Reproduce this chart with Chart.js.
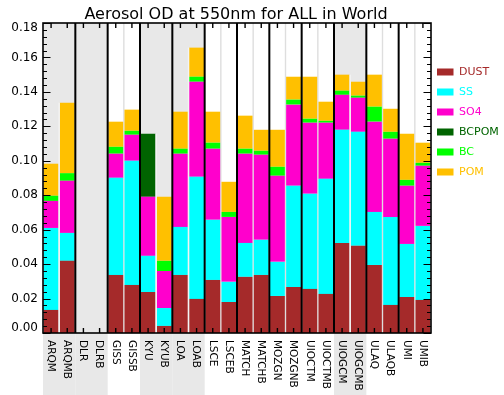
<!DOCTYPE html>
<html>
<head>
<meta charset="utf-8">
<script src="https://cdn.jsdelivr.net/npm/chart.js@4"></script>
<style>
  html, body { margin: 0; padding: 0; background: #fff; }
  #wrap { width: 504px; height: 395px; }
</style>
</head>
<body>
<div id="wrap"><canvas id="c" width="504" height="395"></canvas></div>
<script>
// Aerosol optical depth at 550 nm, global mean, split by component, per model run
const categories = ['ARQM','ARQMB','DLR','DLRB','GISS','GISSB','KYU','KYUB','LOA','LOAB','LSCE','LSCEB',
                    'MATCH','MATCHB','MOZGN','MOZGNB','UIOCTM','UIOCTMB','UIOGCM','UIOGCMB','ULAQ','ULAQB','UMI','UMIB'];
const dust  = [0.0134,0.0419,0,0,0.0337,0.0279,0.0238,0.0041,0.0337,0.0198,0.0308,0.0180,
               0.0326,0.0337,0.0215,0.0267,0.0256,0.0227,0.0523,0.0506,0.0395,0.0163,0.0209,0.0192];
const ss    = [0.0476,0.0162,0,0,0.0564,0.0721,0.0210,0.0104,0.0279,0.0709,0.0349,0.0117,
               0.0197,0.0204,0.0198,0.0588,0.0552,0.0668,0.0657,0.0662,0.0308,0.0511,0.0308,0.0430];
const so4   = [0.0157,0.0303,0,0,0.0140,0.0151,0.0343,0.0215,0.0425,0.0552,0.0413,0.0377,
               0.0518,0.0494,0.0500,0.0471,0.0413,0.0326,0.0203,0.0198,0.0524,0.0454,0.0338,0.0349];
const bcpom = [0,0,0,0,0,0,0.0366,0,0,0,0,0,
               0,0,0,0,0,0,0,0,0,0,0,0];
const bc    = [0.0030,0.0044,0,0,0.0040,0.0023,0,0.0059,0.0029,0.0029,0.0035,0.0029,
               0.0029,0.0023,0.0052,0.0029,0.0023,0.0011,0.0024,0.0012,0.0087,0.0040,0.0034,0.0017];
const pom   = [0.0186,0.0409,0,0,0.0146,0.0123,0,0.0372,0.0215,0.0169,0.0180,0.0175,
               0.0192,0.0122,0.0215,0.0133,0.0244,0.0111,0.0093,0.0081,0.0186,0.0134,0.0268,0.0117];
const yTickStep = 0.02;
const yMax = 0.18;

const FONT = '"DejaVu Sans", sans-serif';
const shadedModels = new Set(['ARQM','DLR','KYU','LOA','UIOGCM']);

const series = [
  { label: 'DUST',  data: dust,  color: '#a52a2a' },
  { label: 'SS',    data: ss,    color: '#00ffff' },
  { label: 'SO4',   data: so4,   color: '#ff00cc' },
  { label: 'BCPOM', data: bcpom, color: '#006400' },
  { label: 'BC',    data: bc,    color: '#00ff00' },
  { label: 'POM',   data: pom,   color: '#ffc000' }
];

const frame = {
  id: 'frame',
  beforeDatasetsDraw(chart) {
    const { ctx, chartArea: a, scales: { x, y } } = chart;
    const half = (x.getPixelForValue(1) - x.getPixelForValue(0)) / 2;
    ctx.save();
    for (let i = 0; i < categories.length; i += 2) {
      const l = x.getPixelForValue(i) - half;
      const r = x.getPixelForValue(i + 1) + half;
      const mid = x.getPixelForValue(i) + half;
      if (shadedModels.has(categories[i])) {
        ctx.fillStyle = '#e8e8e8';
        ctx.fillRect(l, a.top, r - l, chart.height - a.top);
      } else {
        ctx.fillStyle = '#dedede';
        ctx.fillRect(mid - 0.7, a.top, 1.4, a.bottom - a.top);
      }
    }
    ctx.restore();
  },
  afterDatasetsDraw(chart) {
    const { ctx, chartArea: a, scales: { x, y } } = chart;
    const half = (x.getPixelForValue(1) - x.getPixelForValue(0)) / 2;
    ctx.save();

    // white gap between the two runs inside shaded columns
    for (let i = 0; i < categories.length; i += 2) {
      if (!shadedModels.has(categories[i])) continue;
      let tot = 0;
      [i, i + 1].forEach(k => {
        const s = series.reduce((acc, d) => acc + d.data[k], 0);
        tot = Math.max(tot, s);
      });
      if (tot <= 0) continue;
      const mid = x.getPixelForValue(i) + half;
      const yt = y.getPixelForValue(tot);
      ctx.fillStyle = '#f4f4f4';
      ctx.fillRect(mid - 0.7, yt, 1.4, a.bottom - yt);
    }

    // black separators between models
    ctx.strokeStyle = '#000';
    ctx.lineWidth = 2;
    for (let i = 2; i < categories.length; i += 2) {
      const xx = x.getPixelForValue(i) - half;
      ctx.beginPath(); ctx.moveTo(xx, a.top); ctx.lineTo(xx, a.bottom); ctx.stroke();
    }

    // frame
    ctx.lineWidth = 1.6;
    ctx.strokeRect(a.left, a.top, a.right - a.left, a.bottom - a.top);

    // category ticks on bottom and top
    ctx.lineWidth = 1.4;
    categories.forEach((c, i) => {
      const xx = x.getPixelForValue(i);
      ctx.beginPath();
      ctx.moveTo(xx, a.bottom); ctx.lineTo(xx, a.bottom - 5);
      ctx.moveTo(xx, a.top); ctx.lineTo(xx, a.top + 5);
      ctx.stroke();
    });

    // value ticks on left and right
    ctx.lineWidth = 1.2;
    const nMinor = Math.round(yMax / (yTickStep / 5));
    for (let k = 0; k <= nMinor; k++) {
      const v = k * yTickStep / 5;
      const yy = Math.round(y.getPixelForValue(v)) + 0.5;
      const len = (k % 5 === 0) ? 7.5 : 4;
      ctx.beginPath();
      ctx.moveTo(a.left, yy); ctx.lineTo(a.left + len, yy);
      ctx.moveTo(a.right, yy); ctx.lineTo(a.right - len, yy);
      ctx.stroke();
    }

    // value labels
    ctx.fillStyle = '#000';
    ctx.font = '12px ' + FONT;
    ctx.textAlign = 'right';
    ctx.textBaseline = 'middle';
    y.ticks.forEach(t => {
      let yy = y.getPixelForValue(t.value);
      yy = Math.min(Math.max(yy, a.top + 4.5), a.bottom - 5);
      ctx.fillText(t.value.toFixed(2), a.left - 5, yy);
    });

    // category labels, written downward
    ctx.font = '10.5px ' + FONT;
    ctx.textAlign = 'left';
    ctx.textBaseline = 'middle';
    categories.forEach((c, i) => {
      ctx.save();
      ctx.translate(x.getPixelForValue(i) - 0.5, a.bottom + 7);
      ctx.rotate(Math.PI / 2);
      ctx.fillText(c, 0, 0);
      ctx.restore();
    });

    // title
    ctx.font = '16px ' + FONT;
    ctx.textAlign = 'center';
    ctx.textBaseline = 'alphabetic';
    ctx.fillText('Aerosol OD at 550nm for ALL in World', (a.left + a.right) / 2 - 1, 18.5);

    // legend
    ctx.font = '11px ' + FONT;
    ctx.textAlign = 'left';
    ctx.textBaseline = 'middle';
    series.forEach((s, k) => {
      const cy = 72 + k * 20;
      ctx.fillStyle = s.color;
      ctx.fillRect(437, cy - 3.5, 16.5, 7);
      ctx.fillText(s.label, 459, cy + 0.5);
    });

    ctx.restore();
  }
};

new Chart(document.getElementById('c'), {
  type: 'bar',
  data: {
    labels: categories,
    datasets: series.map(s => ({
      label: s.label,
      data: s.data,
      backgroundColor: s.color,
      borderWidth: 0,
      barPercentage: 0.92,
      categoryPercentage: 1.0
    }))
  },
  options: {
    responsive: false,
    animation: false,
    devicePixelRatio: 1,
    layout: { padding: { left: 43, right: 73, top: 23, bottom: 62 } },
    plugins: { legend: { display: false }, title: { display: false }, tooltip: { enabled: false } },
    scales: {
      x: { stacked: true, display: false },
      y: { stacked: true, display: false, min: 0, max: yMax, ticks: { stepSize: yTickStep } }
    }
  },
  plugins: [frame]
});
</script>
</body>
</html>
